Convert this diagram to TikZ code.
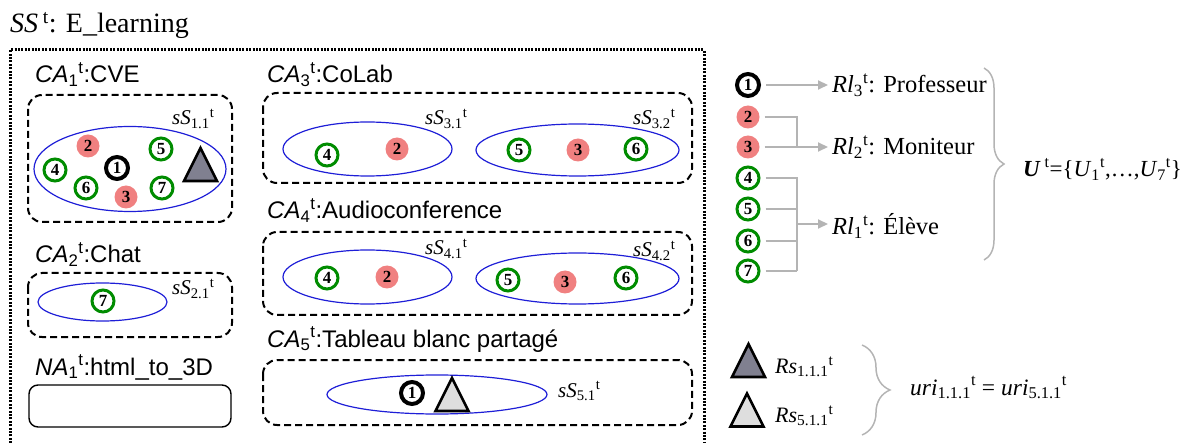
\documentclass[tikz,border=0pt]{standalone}
\usepackage{fontspec}
\setmainfont{Liberation Serif}
\newfontfamily\arialfont{Liberation Sans}
\usetikzlibrary{arrows.meta,decorations.pathreplacing}

\definecolor{usrgreen}{RGB}{0,140,0}
\definecolor{usrred}{RGB}{240,128,128}
\definecolor{sessblue}{RGB}{30,30,215}
\definecolor{linkgray}{RGB}{180,180,180}
\definecolor{resdark}{RGB}{128,128,144}
\definecolor{reslight}{RGB}{222,222,222}

\newcommand{\idx}[2]{\textit{#1}\textsubscript{#2}\textsuperscript{t}}

\tikzset{
  usr/.style={circle, inner sep=0pt, minimum size=22pt,
    font=\fontsize{17}{17}\selectfont\bfseries},
  prof/.style={usr, draw=black, line width=4pt, fill=white},
  moni/.style={usr, fill=usrred, minimum size=23pt},
  stud/.style={usr, draw=usrgreen, line width=3pt, fill=white},
  calbl/.style={inner sep=0pt, anchor=base west,
    font=\arialfont\fontsize{24}{28}\selectfont},
  sslbl/.style={inner sep=0pt, anchor=base west,
    font=\fontsize{21}{24}\selectfont},
  txt/.style={inner sep=0pt, anchor=base west,
    font=\fontsize{24.5}{28}\selectfont},
  cabox/.style={line width=2pt, dash pattern=on 7pt off 4pt, rounded corners=14pt},
  sess/.style={sessblue, line width=1.2pt},
  link/.style={linkgray, line width=2pt},
  brc/.style={linkgray, line width=1.5pt, decorate,
    decoration={brace, amplitude=20pt, aspect=0.5}},
  pics/restri/.style={code={
    \draw[line width=2.6pt, line join=miter, fill=#1]
      (-16.5,16.5) -- (0,-16.5) -- (16.5,16.5) -- cycle;}}
}

\begin{document}
\begin{tikzpicture}[x=1pt, y=-1pt]
\useasboundingbox (0,0) rectangle (1193,443);

% E_learning space
\node[inner sep=0pt, anchor=base west, font=\fontsize{28}{32}\selectfont] (ss) at (10,33) {\textit{SS}\,\textsuperscript{t}: E\_learning};
\draw[line width=3pt, dash pattern=on 2pt off 1.4pt] (10,450) -- (10,50) -- (704,50) -- (704,450);

% CA1 : CVE
\node[calbl] (ca1) at (35,83) {\idx{CA}{1}:CVE};
\draw[cabox] (28,95) rectangle (232,222);
\draw[sess] (130,169) ellipse [x radius=96pt, y radius=42.5pt];
\node[sslbl] (ss11) at (172,125) {\idx{sS}{1.1}};
\node[moni] (cve2) at (88,146) {2};
\node[stud] (cve5) at (161,149) {5};
\node[stud] (cve4) at (55,170) {4};
\node[prof] (cve1) at (117,168) {1};
\node[stud] (cve6) at (86,188) {6};
\node[moni] (cve3) at (126,197) {3};
\node[stud] (cve7) at (162,188) {7};
\pic at (200.5,164.5) {restri=resdark};

% CA2 : Chat
\node[calbl] (ca2) at (35,263) {\idx{CA}{2}:Chat};
\draw[cabox] (28,273) rectangle (232,337);
\draw[sess] (102.5,302) ellipse [x radius=64.5pt, y radius=19pt];
\node[sslbl] (ss21) at (172,295) {\idx{sS}{2.1}};
\node[stud] (chat7) at (103,301) {7};

% NA1 : html_to_3D
\node[calbl] (na1) at (35,375) {\idx{NA}{1}:html\_to\_3D};
\draw[line width=1.4pt, rounded corners=9pt] (29,385) rectangle (231,427);

% CA3 : CoLab
\node[calbl] (ca3) at (267,83) {\idx{CA}{3}:CoLab};
\draw[cabox] (263,93) rectangle (692,183);
\draw[sess] (367.5,149) ellipse [x radius=84.5pt, y radius=27pt];
\draw[sess] (577.5,150) ellipse [x radius=101.5pt, y radius=26pt];
\node[sslbl] (ss31) at (425,125) {\idx{sS}{3.1}};
\node[sslbl] (ss32) at (633,125) {\idx{sS}{3.2}};
\node[stud] (col4) at (327,155) {4};
\node[moni] (col2) at (397,149) {2};
\node[stud] (col5) at (519,150) {5};
\node[moni] (col3) at (578,150) {3};
\node[stud] (col6) at (636,149) {6};

% CA4 : Audioconference
\node[calbl] (ca4) at (267,219) {\idx{CA}{4}:Audioconference};
\draw[cabox] (263,232) rectangle (692,315);
\draw[sess] (367.5,277) ellipse [x radius=84.5pt, y radius=27pt];
\draw[sess] (577.5,278.5) ellipse [x radius=101.5pt, y radius=25.5pt];
\node[sslbl] (ss41) at (425,255) {\idx{sS}{4.1}};
\node[sslbl] (ss42) at (633,257) {\idx{sS}{4.2}};
\node[stud] (aud4) at (327,278) {4};
\node[moni] (aud2) at (387,277) {2};
\node[stud] (aud5) at (508,280) {5};
\node[moni] (aud3) at (565,282) {3};
\node[stud] (aud6) at (626,278) {6};

% CA5 : Tableau blanc partage
\node[calbl] (ca5) at (267,347) {\idx{CA}{5}:Tableau blanc partagé};
\draw[cabox] (263,360) rectangle (692,425);
\draw[sess] (437,394.5) ellipse [x radius=110pt, y radius=19.5pt];
\node[sslbl] (ss51) at (558,397) {\idx{sS}{5.1}};
\node[prof] (tab1) at (412,393) {1};
\pic at (452,394.5) {restri=reslight};

% roles
\node[prof] (u1) at (748,85) {1};
\node[moni] (u2) at (748,117) {2};
\node[moni] (u3) at (748,147) {3};
\node[stud] (u4) at (748,178) {4};
\node[stud] (u5) at (748,209) {5};
\node[stud] (u6) at (748,241) {6};
\node[stud] (u7) at (748,271) {7};

\node[txt] (rl3) at (832,93) {\idx{Rl}{3}: Professeur};
\node[txt] (rl2) at (832,155) {\idx{Rl}{2}: Moniteur};
\node[txt] (rl1) at (832,235) {\idx{Rl}{1}: Élève};

\coordinate (j23) at (797,147);
\coordinate (j47) at (797,271);
\coordinate (j1) at (797,224);

\draw[link, -{Triangle[length=10pt,width=9pt]}] (u1.east) ++(5,0) -- (828,85);
\draw[link] (u2.east) ++(5,0) -| (j23);
\draw[link, -{Triangle[length=10pt,width=9pt]}] (u3.east) ++(5,0) -- (828,147);
\draw[link] (u4.east) ++(5,0) -| (j47);
\draw[link] (u5.east) ++(5,0) -- (u5 -| j47);
\draw[link] (u6.east) ++(5,0) -- (u6 -| j47);
\draw[link] (u7.east) ++(5,0) -- (j47);
\draw[link, -{Triangle[length=10pt,width=9pt]}] (j1) -- (828,224);

\draw[brc] (984,68) -- (984,260);
\node[txt, font=\fontsize{23}{26}\selectfont] (users) at (1023,177) {\textbf{\textit{U}}\,\textsuperscript{t}=\{\idx{U}{1},\ldots,\idx{U}{7}\}};

% resources
\pic at (748.5,360.5) {restri=resdark};
\pic at (747,410) {restri=reslight};
\node[txt, font=\fontsize{22}{26}\selectfont] (rs111) at (775,373) {\idx{Rs}{1.1.1}};
\node[txt, font=\fontsize{22}{26}\selectfont] (rs511) at (775,422) {\idx{Rs}{5.1.1}};
\draw[brc, decoration={amplitude=28pt}] (862,345) -- (862,435);
\node[txt, font=\fontsize{23.5}{26}\selectfont] (uri) at (910,395) {\idx{uri}{1.1.1} = \idx{uri}{5.1.1}};
\end{tikzpicture}
\end{document}
